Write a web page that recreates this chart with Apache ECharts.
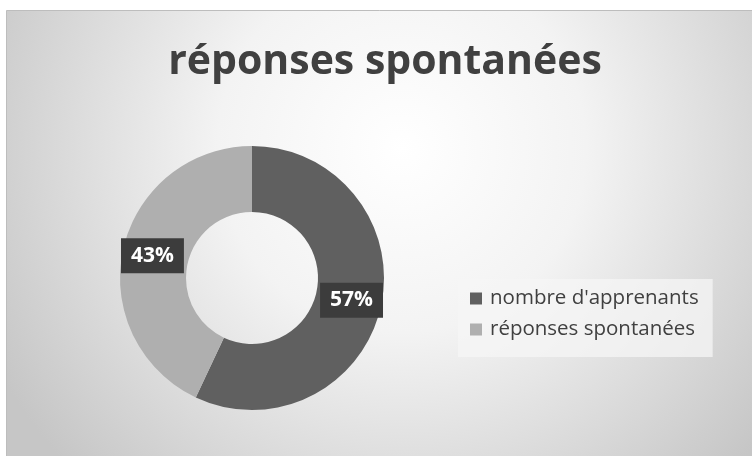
<!DOCTYPE html>
<html>
<head>
<meta charset="utf-8">
<script src="https://cdn.jsdelivr.net/npm/echarts@6/dist/echarts.min.js"></script>
<style>html,body{margin:0;padding:0;background:#fff;}#c{width:752px;height:456px;}</style>
</head>
<body>
<div id="c"></div>
<script>
const titleText = 'réponses spontanées';
const categories = ["nombre d'apprenants", 'réponses spontanées'];
const values = [57, 43];
const colors = ['#606060', '#afafaf'];

const chart = echarts.init(document.getElementById('c'), null, {renderer: 'canvas'});
chart.setOption({
  animation: false,
  backgroundColor: '#ffffff',
  graphic: [{
    type: 'rect', z: -10, silent: true,
    shape: {x: 6.5, y: 10.5, width: 760, height: 460},
    style: {
      fill: {type: 'radial', x: 0.52, y: 0.3, r: 1.0,
        colorStops: [{offset: 0, color: '#ffffff'}, {offset: 0.4, color: '#f3f3f3'}, {offset: 1, color: '#c6c6c6'}]},
      stroke: '#bdbdbd', lineWidth: 1
    }
  }],
  title: {
    text: titleText, left: 380, textAlign: 'center', top: 37,
    textStyle: {fontFamily: 'Open Sans', fontWeight: 'bold', fontSize: 41, color: '#404040'}
  },
  legend: {
    orient: 'vertical', left: 458, top: 279,
    backgroundColor: 'rgba(245,245,245,0.75)',
    padding: [9, 14, 17, 12],
    itemGap: 10, icon: 'rect', itemWidth: 12, itemHeight: 12,
    textStyle: {fontFamily: 'Open Sans', fontSize: 20.5, color: '#404040', padding: [0, 0, 0, 3]},
    data: categories
  },
  series: [{
    type: 'pie', center: [252, 278], radius: [66, 132], startAngle: 90, clockwise: true,
    silent: true,
    label: {
      show: true, position: 'inside', formatter: '{d}%',
      color: '#ffffff', fontFamily: 'Open Sans', fontWeight: 'bold', fontSize: 21,
      backgroundColor: '#3c3c3c', padding: [7, 10]
    },
    labelLine: {show: false},
    emphasis: {disabled: true},
    data: categories.map((n, i) => ({name: n, value: values[i], itemStyle: {color: colors[i]}}))
  }]
});
</script>
</body>
</html>
